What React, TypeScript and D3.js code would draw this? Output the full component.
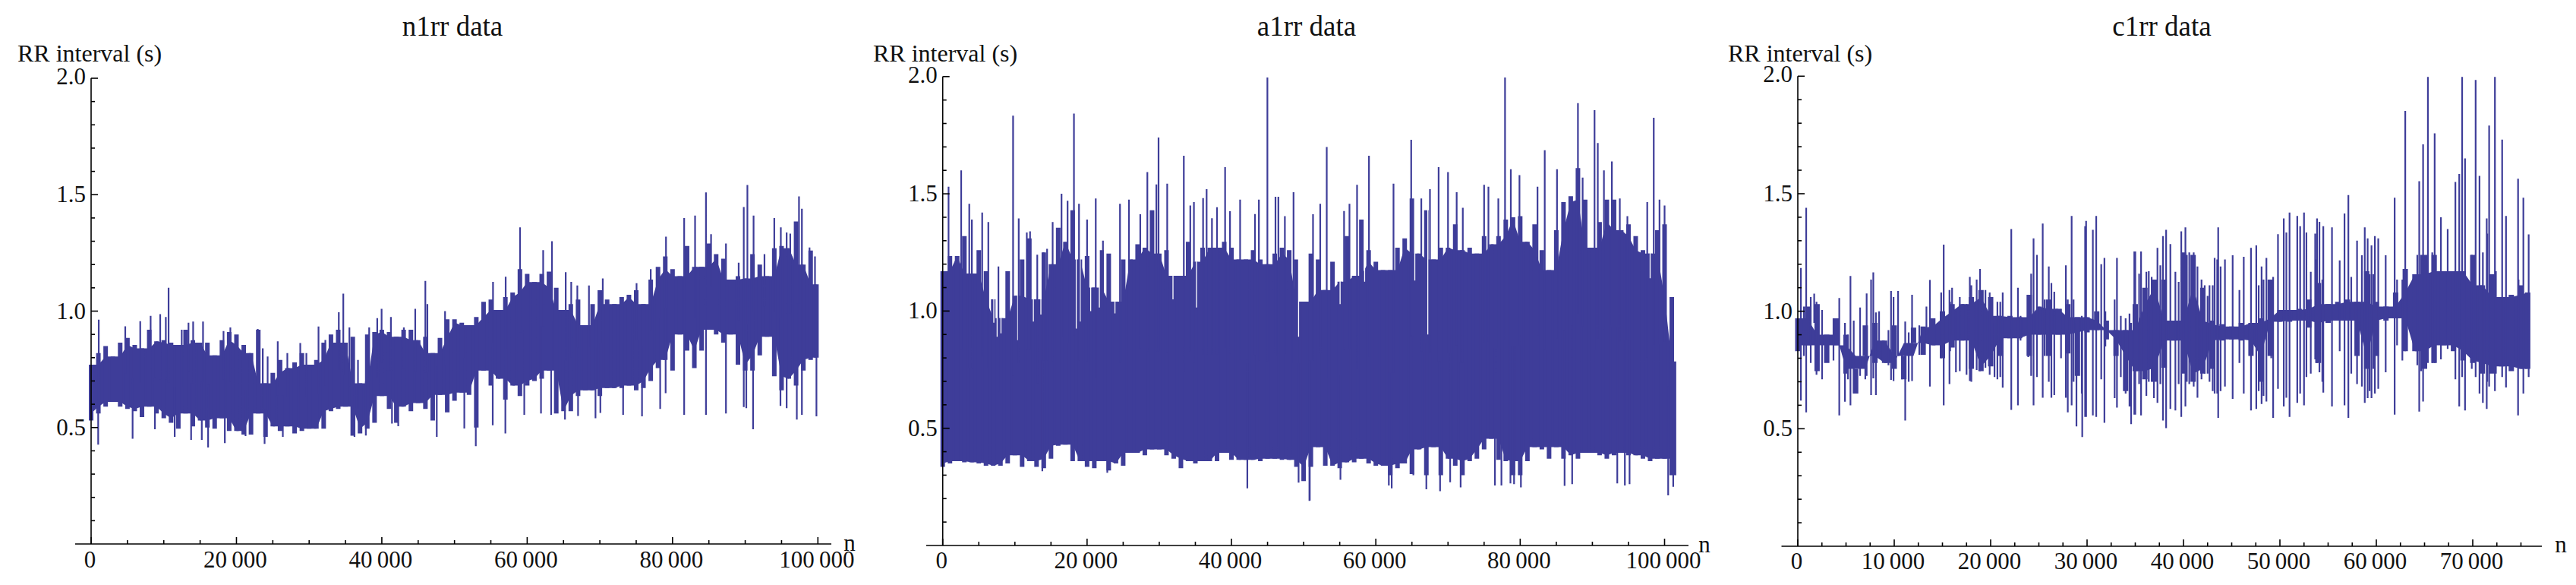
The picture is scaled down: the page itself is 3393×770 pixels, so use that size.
import React from "react";
import * as d3 from "d3";

// ---------- n1rr ----------
const n1BandN = [...d3.range(0, 100000, 1000), 99800];
const n1High = [
  .77,.82,.85,.805,.865,.885,.855,.84,.92,.87,
  .875,.865,.855,.92,.875,.865,.865,.81,.875,.91,
  .90,.855,.82,.92,.69,.735,.79,.755,.78,.82,
  .77,.79,.865,.90,.92,.865,.89,.69,.90,.91,
  .92,.91,.89,.92,.92,.875,.89,.82,.885,.965,
  .965,.95,.94,.975,1.04,1.05,1.005,1.06,1.08,1.18,
  1.16,1.125,1.16,1.17,1.10,1.005,1.03,1.05,.94,1.03,
  1.09,1.05,1.03,1.06,1.07,1.09,1.03,1.135,1.19,1.235,
  1.18,1.15,1.28,1.19,1.19,1.29,1.245,1.225,1.135,1.15,
  1.14,1.245,1.20,1.15,1.27,1.28,1.27,1.385,1.20,1.26,1.115,
];
const n1Low = [
  .53,.56,.59,.61,.59,.58,.57,.545,.59,.56,
  .54,.52,.495,.56,.505,.53,.50,.495,.54,.485,
  .485,.47,.47,.56,.46,.505,.485,.505,.475,.485,
  .495,.495,.495,.57,.58,.59,.465,.475,.495,.52,
  .635,.58,.52,.59,.57,.605,.58,.53,.64,.565,
  .615,.65,.64,.50,.745,.68,.71,.62,.68,.635,
  .68,.70,.71,.745,.56,.57,.57,.635,.66,.66,
  .635,.67,.67,.67,.68,.66,.67,.70,.755,.79,
  .745,.90,.83,.755,.83,.92,.90,.865,.90,.77,
  .745,.745,.81,.89,.72,.66,.71,.68,.745,.79,.80,
];
const n1PeakN = [1050,4700,6760,8190,9510,10280,10660,12470,13400,14040,15400,18220,19160,22930,23620,24290,25680,27000,28780,29620,31290,32230,34080,34700,35540,36720,38260,39370,39970,41250,43030,44600,45990,46270,48700,55300,57040,59020,62200,63410,65300,66060,66900,68500,70400,75050,77000,79100,81600,83100,84600,85300,87350,89100,89800,90300,91150,92650,94000,94900,95700,96200,97400,97800,98850,99600];
const n1PeakV = [.963,.935,.957,.98,.987,.975,1.10,.92,.95,.955,.955,.914,.93,.923,.84,.805,.87,.82,.863,.82,.934,.876,.995,1.075,.93,.79,.93,.97,1.01,.975,.93,1.01,1.13,1.03,1.0,1.126,1.148,1.36,1.262,1.30,1.167,1.126,1.11,1.11,1.14,1.12,1.18,1.32,1.40,1.41,1.51,1.33,1.29,1.208,1.447,1.542,1.41,1.245,1.40,1.36,1.338,1.333,1.493,1.44,1.273,1.235];
const n1DipN = [975,5710,8780,11500,13760,15230,16100,18400,21250,23870,26380,36240,37800,41400,42260,47560,51350,52930,55260,57000,59600,61900,63300,65200,67000,69400,70070,73200,75800,78300,79050,81600,84600,87350,89800,90150,91080,94850,95700,97100,97800,99800];
const n1DipV = [.427,.452,.493,.46,.447,.447,.414,.433,.463,.43,.46,.46,.466,.517,.506,.46,.496,.42,.51,.475,.555,.56,.555,.534,.55,.54,.563,.555,.548,.58,.648,.555,.555,.56,.588,.583,.493,.593,.583,.534,.555,.548];

// ---------- a1rr ----------
const a1BandN = [...d3.range(0, 102000, 1000), 101300];
const a1High = [
  1.17,1.235,1.235,1.32,1.16,1.26,1.17,1.05,.97,1.17,
  1.065,1.22,1.31,1.05,1.25,1.2,1.355,1.295,1.43,1.22,
  1.235,1.10,1.26,1.245,1.04,1.22,1.22,1.285,1.27,1.43,
  1.245,1.26,1.15,1.15,1.295,1.21,1.27,1.27,1.27,1.295,
  1.27,1.22,1.22,1.26,1.22,1.2,1.245,1.27,1.26,1.22,
  1.04,1.245,1.22,1.09,1.21,1.125,1.32,1.15,1.39,1.26,
  1.21,1.175,1.175,1.27,1.31,1.48,1.245,1.43,1.22,1.27,
  1.27,1.37,1.26,1.27,1.245,1.32,1.285,1.32,1.39,1.40,
  1.405,1.295,1.37,1.26,1.175,1.345,1.465,1.49,1.61,1.475,
  1.27,1.38,1.475,1.475,1.345,1.37,1.32,1.26,1.245,1.345,
  1.37,1.06,.785,
];
const a1Low = [
  .335,.35,.36,.355,.355,.35,.34,.34,.34,.35,
  .385,.335,.36,.335,.33,.37,.425,.43,.36,.36,
  .335,.33,.36,.32,.35,.34,.395,.395,.385,.41,
  .41,.385,.37,.33,.36,.35,.36,.36,.36,.395,
  .365,.365,.365,.365,.36,.37,.37,.365,.365,.335,
  .275,.335,.42,.34,.34,.33,.355,.355,.37,.35,
  .34,.34,.30,.33,.35,.305,.41,.30,.42,.30,
  .37,.34,.30,.36,.37,.41,.455,.365,.36,.30,
  .30,.36,.42,.41,.37,.42,.37,.385,.37,.395,
  .395,.385,.37,.385,.395,.385,.385,.37,.36,.37,
  .37,.30,.30,
];
const a1PeakN = [810,2560,3680,4040,5470,6320,7720,9750,10530,11650,12100,13100,13960,14460,15230,16460,17300,18180,18880,20000,21200,22200,24560,25800,27370,28350,29600,29900,31100,33400,34300,34800,36070,36560,37300,38000,39120,39800,41200,43260,43800,44980,46100,46500,47400,48600,51300,52300,53200,55600,56350,57400,59050,62450,64900,66300,67500,68700,70000,71200,72050,75000,75600,76970,77900,78700,79900,82400,83400,85100,88000,88650,90300,90750,91600,92700,93800,94850,97600,98500,99300,100000];
const a1PeakV = [1.53,1.60,1.457,1.39,1.42,1.38,1.19,1.833,1.395,1.335,1.34,1.24,1.25,1.265,1.38,1.50,1.47,1.842,1.457,1.39,1.48,1.30,1.457,1.475,1.413,1.593,1.54,1.74,1.543,1.662,1.45,1.465,1.482,1.52,1.396,1.443,1.614,1.426,1.475,1.414,1.475,1.996,1.487,1.487,1.405,1.507,1.413,1.457,1.70,1.427,1.457,1.538,1.662,1.543,1.73,1.48,1.52,1.614,1.593,1.507,1.44,1.538,1.53,1.48,1.996,1.605,1.58,1.53,1.686,1.605,1.887,1.569,1.857,1.717,1.6,1.638,1.48,1.405,1.465,1.824,1.475,1.45];
const a1DipN = [13800,22800,42200,49300,50800,50850,55100,61800,62200,65200,67000,68900,70300,71750,76500,77400,78650,79150,80100,86150,87200,93450,94500,95150,100500,101200];
const a1DipV = [.317,.31,.244,.268,.19,.192,.28,.256,.244,.30,.24,.232,.27,.248,.256,.256,.265,.262,.248,.254,.262,.265,.256,.262,.214,.25];
const a1GapN = [7080,7540,8070,9470,10390,12560,13600,18500,19050,20500,21700,23860,31900,35160,49300,55050,58450,65400,67200,98000];
const a1GapV = [.95,.89,.905,1.11,.876,.955,.985,.925,.955,1.0,1.015,.99,1.05,1.015,.89,1.03,1.125,1.13,.9,1.14];

// ---------- c1rr ----------
const c1BandN = [...d3.range(0, 76000, 1000), 75700];
const c1High = [
  .97,1.02,1.03,.9,.97,.9,.755,.94,.95,.875,
  .94,.81,.93,.935,.97,1.0,1.03,1.03,1.06,1.09,
  1.06,.98,.98,.975,1.07,1.02,1.05,1.01,1.03,.975,
  .975,1.0,.96,.92,.92,1.03,1.1,1.135,1.135,.96,
  1.25,1.24,1.1,.96,.945,.935,.95,.95,.97,1.135,
  1.005,1.005,1.01,1.05,1.12,1.03,1.04,1.05,1.04,1.17,
  1.04,1.02,1.08,1.18,1.157,1.24,1.24,1.17,1.17,1.17,
  1.24,1.11,1.157,1.06,1.07,1.11,1.08,
];
const c1Low = [
  .83,.855,.745,.78,.855,.735,.65,.81,.78,.78,
  .755,.71,.865,.815,.855,.8,.845,.875,.755,.745,
  .765,.81,.885,.885,.81,.9,.81,.9,.82,.725,
  .91,.92,.88,.81,.66,.745,.71,.7,.76,.875,
  .735,.7,.735,.755,.875,.88,.875,.81,.7,.81,
  .955,.955,.96,.93,.78,.95,.96,.96,.81,.755,
  .81,.96,.97,.83,.83,.755,.78,.855,.83,.79,
  .78,.735,.735,.765,.745,.755,.755,
];
const c1SpikeN = [320,870,1700,4300,4890,5460,6460,7140,7600,7830,8100,9670,9930,10400,11140,11850,13340,13700,15130,15730,16000,16400,17840,18000,18900,19900,20400,20700,21250,22140,22830,24200,24450,24800,25400,26030,26300,26600,27800,28000,28400,28900,29500,29800,29900,30600,30950,31470,31800,32860,33100,34400,34570,34900,35000,35600,36150,36700,36930,37300,37870,38200,38640,39160,39770,40200,41060,41450,41870,42200,42500,43030,43230,43600,43850,44300,45100,45800,46250,47000,47550,48100,48600,49300,49800,50400,50670,51000,51800,52100,52500,52750,53200,53660,53850,54100,54500,55400,56200,56700,57100,57400,58000,58500,58800,59100,59500,59850,60200,60970,61900,63000,64450,64850,65350,66050,66700,67400,68200,68600,68900,69200,70300,70700,71050,71450,71700,72300,73050,73450,74700,75250,75800];
const c1SpikeTop = [1.184,1.44,1.075,1.056,.95,1.15,1.016,1.076,1.135,1.165,.995,1.086,1.06,1.086,.956,1.07,1.02,1.133,1.283,1.09,1.1,1.0,1.146,1.11,1.18,1.08,.95,1.04,1.08,1.35,1.1,1.16,1.31,1.24,1.373,1.19,1.12,1.083,1.195,1.05,1.405,.95,.95,1.362,1.384,1.346,1.405,1.2,1.227,1.05,1.227,.99,.95,1.254,1.254,1.254,1.168,1.146,1.135,1.27,1.32,1.346,1.286,1.168,1.34,1.357,1.25,1.19,1.135,1.11,1.065,1.11,1.227,1.357,1.19,1.22,1.238,1.09,1.232,1.27,1.28,1.19,1.227,1.146,1.328,1.395,1.335,1.42,1.405,1.362,1.42,1.335,1.168,1.33,1.395,1.38,1.362,1.357,1.216,1.416,1.494,1.146,1.3,1.238,1.357,1.31,1.28,1.32,1.31,1.238,1.483,1.852,1.553,1.71,1.997,1.757,1.4,1.35,1.55,1.584,1.997,1.65,1.984,1.576,1.25,1.395,1.79,1.997,1.73,1.405,1.564,1.483,1.327];
const c1SpikeBottom = [.62,.57,.95,.557,.615,.6,.725,.725,.643,.714,.643,.708,.703,.81,.535,.703,.9,.68,.6,.69,.9,.74,.703,.7,.745,.73,.72,.71,.675,.58,.6,.725,.6,.72,.632,.7,.632,.643,.632,.57,.6,.51,.465,.55,.55,.557,.55,.71,.525,.63,.59,.595,.52,.56,.56,.557,.64,.7,.63,.61,.535,.503,.584,.578,.55,.595,.68,.632,.71,.735,.735,.66,.65,.546,.66,.68,.627,.78,.65,.578,.584,.605,.616,.546,.67,.595,.632,.55,.61,.65,.6,.72,.735,.795,.78,.74,.654,.595,.83,.6,.546,.735,.69,.68,.61,.63,.63,.65,.67,.74,.56,.83,.573,.616,.78,.78,.795,.84,.71,.595,.72,.578,.72,.65,.61,.584,.68,.66,.72,.676,.557,.65,.72];
const c1ShortN = [630,1340,1940,2520,3700,5200,5800,7000,8430,9400,10800,11500,12600,14870,15800,16800,17500,18550,19460,21000,23100,23900,25600,27300,28600,29450,31900,33500,34000,35400,36400,37600,39500,40350,40600,41100,42700,43500,47800,48300,49100,53750,54400,59300,59700,62150,62700,64250,64650,65800,69900,71500,72400,74750];
const c1ShortTop = [1.02,1.06,1.04,1.005,.97,.9,.96,.92,1,.92,.83,.91,.94,1.08,1.04,1.06,1.03,1.135,1.09,1.04,.98,1.07,1.05,1.01,1.05,.98,1,.98,.97,1.16,1.17,1.195,1.125,1.24,1.25,1.08,1.11,1.22,1.11,1.135,1.1,1.22,1.135,1.157,1.157,1.135,1.135,1.24,1.24,1.25,1.24,1.33,1.17,1.135];
const c1ShortBottom = [.81,.78,.73,.71,.79,.71,.65,.71,.81,.77,.71,.7,.815,.8,.83,.745,.73,.75,.76,.72,.875,.805,.81,.8,.7,.65,.85,.72,.65,.69,.7,.69,.69,.7,.69,.7,.7,.65,.66,.64,.8,.78,.7,.66,.755,.855,.79,.77,.745,.78,.755,.7,.735,.77];

// ---------- shared labels ----------
const chartTitles = ["n1rr data", "a1rr data", "c1rr data"];
const yLabelText = "RR interval (s)";
const xLabelText = "n";
const yMajorTicks = [0.5, 1.0, 1.5, 2.0];
const yMinorTicks = [0.1, 0.2, 0.3, 0.4, 0.6, 0.7, 0.8, 0.9, 1.1, 1.2, 1.3, 1.4, 1.6, 1.7, 1.8, 1.9];
const xMajorTicksWide = [0, 20000, 40000, 60000, 80000, 100000];
const xMinorTicksWide = [5000, 10000, 15000, 25000, 30000, 35000, 45000, 50000, 55000, 65000, 70000, 75000, 85000, 90000, 95000];
const xMajorTicksShort = [0, 10000, 20000, 30000, 40000, 50000, 60000, 70000];
const xMinorTicksShort = [2500, 5000, 7500, 12500, 15000, 17500, 22500, 25000, 27500, 32500, 35000, 37500, 42500, 45000, 47500, 52500, 55000, 57500, 62500, 65000, 67500, 72500, 75000];

type Panel = {
  title: string; titleX: number;
  x0: number; x1: number; domainMax: number; axisL: number; axisR: number;
  yTop: number; yBase: number; labelX: number; xLabelX: number; xLabelY: number; tickY: number;
  major: number[]; minor: number[];
  bandN: number[]; hi: number[]; lo: number[];
  peaks: [number, number][]; dips: [number, number][];
  gaps: [number, number][];
  spikes: [number, number, number][];
  toothW: number;
};

const zip2 = (a: number[], b: number[]) => a.map((v, i) => [v, b[i]] as [number, number]);
const zip3 = (a: number[], b: number[], c: number[]) => a.map((v, i) => [v, b[i], c[i]] as [number, number, number]);

const panels: Panel[] = [
  { title: chartTitles[0], titleX: 596, x0: 120, x1: 1077.3, domainMax: 100000, axisL: 99, axisR: 1095,
    yTop: 103, yBase: 716, labelX: 23, xLabelX: 1119, xLabelY: 725, tickY: 747, toothW: 6,
    major: xMajorTicksWide, minor: xMinorTicksWide, bandN: n1BandN, hi: n1High, lo: n1Low,
    peaks: zip2(n1PeakN, n1PeakV), dips: zip2(n1DipN, n1DipV), gaps: [], spikes: [] },
  { title: chartTitles[1], titleX: 1721, x0: 1241.7, x1: 2192.5, domainMax: 100000, axisL: 1220, axisR: 2224,
    yTop: 100.8, yBase: 718, labelX: 1150, xLabelX: 2245, xLabelY: 727, tickY: 748, toothW: 6,
    major: xMajorTicksWide, minor: xMinorTicksWide, bandN: a1BandN, hi: a1High, lo: a1Low,
    peaks: zip2(a1PeakN, a1PeakV), dips: zip2(a1DipN, a1DipV), gaps: zip2(a1GapN, a1GapV), spikes: [] },
  { title: chartTitles[2], titleX: 2847.5, x0: 2368, x1: 3257, domainMax: 70000, axisL: 2346.5, axisR: 3348,
    yTop: 100.3, yBase: 719, labelX: 2276, xLabelX: 3373, xLabelY: 727, tickY: 749, toothW: 7,
    major: xMajorTicksShort, minor: xMinorTicksShort, bandN: c1BandN, hi: c1High, lo: c1Low,
    peaks: [], dips: [], gaps: [],
    spikes: [...zip3(c1SpikeN, c1SpikeTop, c1SpikeBottom), ...zip3(c1ShortN, c1ShortTop, c1ShortBottom)] },
];

const INK = "#3e3d99";
const SERIF = "'Liberation Serif', 'Times New Roman', serif";
const fmtTick = (n: number) => {
  const s = String(n);
  return n >= 1000 ? s.slice(0, -3) + "\u2009" + s.slice(-3) : s;
};

function ChartPanel({ p }: { p: Panel }) {
  const x = d3.scaleLinear().domain([0, p.domainMax]).range([p.x0, p.x1]);
  const y = d3.scaleLinear().domain([0, 2]).range([p.yBase, p.yTop]);
  const pts = p.bandN.map((n, i) => {
    const a = Math.max(0, i - 1);
    const b = i + 2;
    // Solid core of the trace: where every neighbouring reading overlaps.
    return {
      n, hi: p.hi[i], lo: p.lo[i],
      coreHi: d3.min(p.hi.slice(a, b)) as number,
      coreLo: d3.max(p.lo.slice(a, b)) as number,
    };
  });
  type Pt = (typeof pts)[number];
  const core = d3.area<Pt>().x((d) => x(d.n)).y0((d) => y(d.coreLo)).y1((d) => y(d.coreHi));
  const seg = d3.line<[number, number]>().x((d) => x(d[0])).y((d) => y(d[1]));
  const bis = d3.bisector((d: { n: number }) => d.n).center;
  const mid = (n: number) => {
    const d = pts[bis(pts, n)];
    return (d.hi + d.lo) / 2;
  };
  const teeth = pts.map((d) => seg([[d.n, d.hi], [d.n, d.lo]])).join("");
  const spikePath = [
    ...p.peaks.map(([n, v]) => seg([[n, v], [n, mid(n)]])),
    ...p.dips.map(([n, v]) => seg([[n, v], [n, mid(n)]])),
    ...p.spikes.map(([n, t, b]) => seg([[n, t], [n, b]])),
  ].join("");
  const gapPath = p.gaps.map(([n, v]) => seg([[n, 1.99], [n, v]])).join("");
  return (
    <g>
      <text x={p.titleX} y={47} textAnchor="middle" fontSize={37} fontFamily={SERIF} fill="#111">{p.title}</text>
      <text x={p.labelX} y={81} fontSize={32} fontFamily={SERIF} fill="#111">{yLabelText}</text>
      <path d={core(pts) || ""} fill={INK} />
      <path d={teeth} stroke={INK} strokeWidth={p.toothW} fill="none" />
      <path d={gapPath} stroke="#fff" strokeWidth={1.3} fill="none" />
      <path d={spikePath} stroke={INK} strokeWidth={2.2} fill="none" />
      <g stroke="#000" strokeWidth={1.6} fill="none">
        <line x1={p.x0} x2={p.x0} y1={p.yTop} y2={p.yBase} />
        <line x1={p.axisL} x2={p.axisR} y1={p.yBase} y2={p.yBase} />
        {yMajorTicks.map((t) => <line key={t} x1={p.x0} x2={p.x0 + 9} y1={y(t)} y2={y(t)} />)}
        {yMinorTicks.map((t) => <line key={t} x1={p.x0} x2={p.x0 + 5} y1={y(t)} y2={y(t)} />)}
        {p.major.map((t) => <line key={t} x1={x(t)} x2={x(t)} y1={p.yBase} y2={p.yBase - 9} />)}
        {p.minor.map((t) => <line key={t} x1={x(t)} x2={x(t)} y1={p.yBase} y2={p.yBase - 5} />)}
      </g>
      <g fontFamily={SERIF} fontSize={31} fill="#111">
        {yMajorTicks.map((t) => (
          <text key={t} x={p.x0 - 7} y={y(t) + (t === 2 ? 8 : 10)} textAnchor="end">{t.toFixed(1)}</text>
        ))}
        {p.major.map((t) => (
          <text key={t} x={x(t) - 1.5} y={p.tickY} textAnchor="middle">{fmtTick(t)}</text>
        ))}
        <text x={p.xLabelX} y={p.xLabelY} textAnchor="middle">{xLabelText}</text>
      </g>
    </g>
  );
}

export default function App() {
  return (
    <svg width={3393} height={770} viewBox="0 0 3393 770"
      style={{ position: "absolute", left: 0, top: 0, background: "#fff", display: "block" }}>
      {panels.map((p) => <ChartPanel key={p.title} p={p} />)}
    </svg>
  );
}
